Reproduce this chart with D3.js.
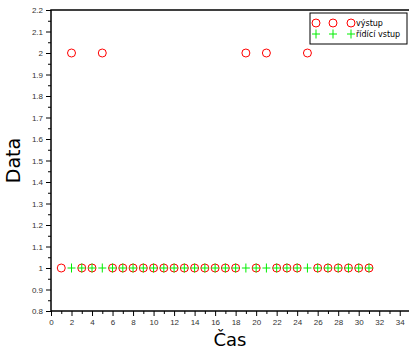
<!DOCTYPE html>
<html>
<head>
<meta charset="utf-8">
<script src="https://cdn.jsdelivr.net/npm/d3@7"></script>
<style>
  body { margin: 0; background: #fff; }
  svg { font-family: "DejaVu Sans", sans-serif; }
  .tick text { font-size: 8px; fill: #333; }
</style>
</head>
<body>
<svg width="409" height="351"></svg>
<script>
// Data
var outX = d3.range(1, 32);
var outY = [1, 2, 1, 1, 2, 1, 1, 1, 1, 1, 1, 1, 1, 1, 1, 1, 1, 1, 2, 1, 2, 1, 1, 1, 2, 1, 1, 1, 1, 1, 1];
var ctrlX = d3.range(2, 32);
var ctrlY = ctrlX.map(() => 1);
var xTicks = d3.range(0, 35, 2);
var yTicks = [0.8, 0.9, 1, 1.1, 1.2, 1.3, 1.4, 1.5, 1.6, 1.7, 1.8, 1.9, 2, 2.1, 2.2];
var seriesNames = ["výstup", "řídící vstup"];

var pArea = [51, 10, 410, 311];
var svg = d3.select("svg");

var xScale = d3.scaleLinear().domain([0, 35]).range([pArea[0], pArea[2]]);
var yScale = d3.scaleLinear().domain([0.8, 2.2]).range([pArea[3], pArea[1]]);

// minor ticks
svg.append("g")
  .attr("transform", `translate(0, ${pArea[3]})`)
  .call(d3.axisBottom(xScale).tickValues(d3.range(1, 35, 2)).tickSize(3).tickFormat(""))
  .call(g => g.select(".domain").remove());
svg.append("g")
  .attr("transform", `translate(${pArea[0]}, 0)`)
  .call(d3.axisLeft(yScale).tickValues(d3.range(0.85, 2.2, 0.1)).tickSize(3).tickFormat(""))
  .call(g => g.select(".domain").remove());

// x-axis
svg.append("g")
  .attr("transform", `translate(0, ${pArea[3]})`)
  .call(d3.axisBottom(xScale).tickValues(xTicks).tickSize(5).tickFormat(d3.format("d")))
  .call(g => g.select(".domain").remove());

// y-axis
svg.append("g")
  .attr("transform", `translate(${pArea[0]}, 0)`)
  .call(d3.axisLeft(yScale).tickValues(yTicks).tickSize(5).tickFormat(d => d3.format("")(+d.toFixed(1))))
  .call(g => g.select(".domain").remove());

// frame
svg.append("rect")
  .attr("x", pArea[0]).attr("y", pArea[1])
  .attr("width", pArea[2] - pArea[0]).attr("height", pArea[3] - pArea[1])
  .attr("fill", "none").attr("stroke", "#000").attr("stroke-width", 1.5);

// labels
svg.append("text")
  .attr("transform", `translate(20, ${(pArea[1] + pArea[3]) / 2}) rotate(-90)`)
  .attr("text-anchor", "middle")
  .attr("font-size", 19)
  .text("Data");
svg.append("text")
  .attr("x", 230).attr("y", 346)
  .attr("text-anchor", "middle")
  .attr("font-size", 18)
  .text("Čas");

function plus(g, x, y) {
  g.append("path")
    .attr("d", `M${x - 4},${y}H${x + 4}M${x},${y - 4.5}V${y + 4.5}`)
    .attr("stroke", "#00ee00").attr("stroke-width", 1).attr("fill", "none");
}

// výstup circles
svg.append("g").selectAll("circle")
  .data(outX.map((x, i) => [x, outY[i]]))
  .join("circle")
  .attr("cx", d => xScale(d[0]))
  .attr("cy", d => yScale(d[1]))
  .attr("r", 4)
  .attr("fill", "none")
  .attr("stroke", "#ff0000")
  .attr("stroke-width", 1);

// řídící vstup plus marks
var gp = svg.append("g");
ctrlX.forEach((x, i) => plus(gp, xScale(x), yScale(ctrlY[i])));

// legend
var lg = svg.append("g");
lg.append("rect")
  .attr("x", 310).attr("y", 13).attr("width", 97).attr("height", 31)
  .attr("fill", "#fff").attr("stroke", "#000").attr("stroke-width", 1);
[316, 333, 351].forEach(x => {
  lg.append("circle").attr("cx", x).attr("cy", 23).attr("r", 4)
    .attr("fill", "none").attr("stroke", "#ff0000");
  plus(lg, x, 34);
});
lg.append("text").attr("x", 356).attr("y", 26).attr("font-size", 8).text(seriesNames[0]);
lg.append("text").attr("x", 356).attr("y", 37).attr("font-size", 8).text(seriesNames[1]);
</script>
</body>
</html>
